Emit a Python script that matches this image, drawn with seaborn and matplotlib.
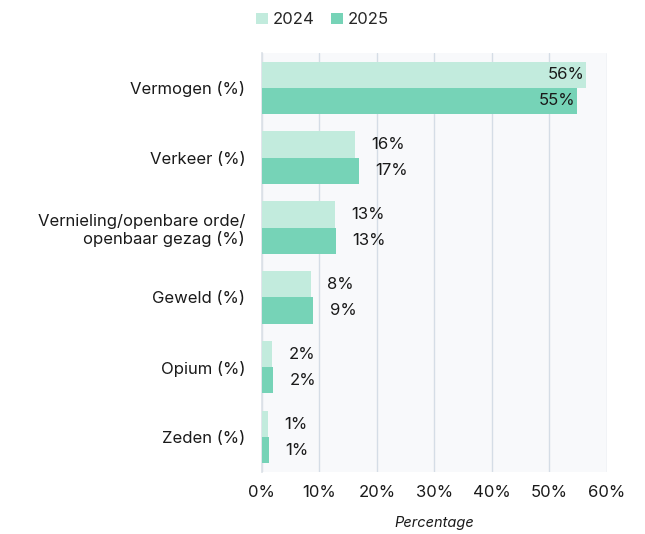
import matplotlib
matplotlib.use("Agg")
import matplotlib.pyplot as plt
import seaborn as sns
import pandas as pd
import numpy as np
from matplotlib.ticker import FixedLocator, PercentFormatter

categories = ["Vermogen (%)", "Verkeer (%)", "Vernieling/openbare orde/\nopenbaar gezag (%)",
              "Geweld (%)", "Opium (%)", "Zeden (%)"]
years = ["2024", "2025"]
values_2024 = [56.3, 16.2, 12.7, 8.5, 1.7, 1.0]
values_2025 = [54.8, 16.9, 12.9, 8.9, 1.9, 1.2]
labels_2024 = ["56%", "16%", "13%", "8%", "2%", "1%"]
labels_2025 = ["55%", "17%", "13%", "9%", "2%", "1%"]
xticks = [0, 10, 20, 30, 40, 50, 60]

df = pd.DataFrame({
    "Categorie": categories * 2,
    "Jaar": [years[0]] * len(categories) + [years[1]] * len(categories),
    "Waarde": values_2024 + values_2025,
})

sns.set_theme(style="white")
plt.rcParams["font.family"] = ["Inter", "DejaVu Sans"]

fig = plt.figure(figsize=(6.45, 5.34), dpi=100)
ax = fig.add_axes([0.406, 0.116, 0.535, 0.785])
ax.set_facecolor("#f8f9fb")

palette = {"2024": "#c2ebdd", "2025": "#76d3b7"}
sns.barplot(data=df, y="Categorie", x="Waarde", hue="Jaar", palette=palette,
            orient="h", width=0.75, ax=ax, saturation=1, legend=True, zorder=3,
            linewidth=0, edgecolor="none")

ax.set_xlim(0, 60)
ax.xaxis.set_major_locator(FixedLocator(xticks))
ax.xaxis.set_major_formatter(PercentFormatter(decimals=0))
ax.grid(axis="x", color="#d5dde6", linewidth=1, zorder=0)
ax.set_axisbelow(True)
for s in ["top", "right", "bottom"]:
    ax.spines[s].set_visible(False)
ax.spines["left"].set_color("#dde2e8")
ax.tick_params(axis="x", length=0, labelsize=12, colors="#1a1a1a", pad=9)
ax.tick_params(axis="y", which="major", length=0, labelsize=12, colors="#1a1a1a", pad=12)
ax.set_yticks(np.arange(-0.5, len(categories), 1.0), minor=True)
ax.tick_params(axis="y", which="minor", length=4, color="#dde2e8", width=1)
for lab in ax.get_yticklabels():
    lab.set_horizontalalignment("right")
    lab.set_multialignment("right")

ax.set_ylabel("")
ax.set_xlabel("Percentage", fontsize=10.5, style="italic", color="#1a1a1a", labelpad=12)

for cont, labs in zip(ax.containers, [labels_2024, labels_2025]):
    for bar, lab in zip(cont, labs):
        w = bar.get_width()
        yc = bar.get_y() + bar.get_height() / 2
        if w > 40:
            ax.annotate(lab, (w, yc), xytext=(-1, 0), textcoords="offset points",
                        ha="right", va="center", fontsize=12, color="#1a1a1a", zorder=5)
        else:
            ax.annotate(lab, (w, yc), xytext=(12, 0), textcoords="offset points",
                        ha="left", va="center", fontsize=12, color="#1a1a1a", zorder=5)

handles, lbls = ax.get_legend_handles_labels()
ax.legend_.remove()
fig.legend(handles, lbls, loc="upper center", bbox_to_anchor=(0.5, 1.005), ncol=2,
           frameon=False, fontsize=12, handlelength=0.7, handleheight=0.7,
           handletextpad=0.3, columnspacing=1.0)

fig.savefig("out.png", dpi=100)
